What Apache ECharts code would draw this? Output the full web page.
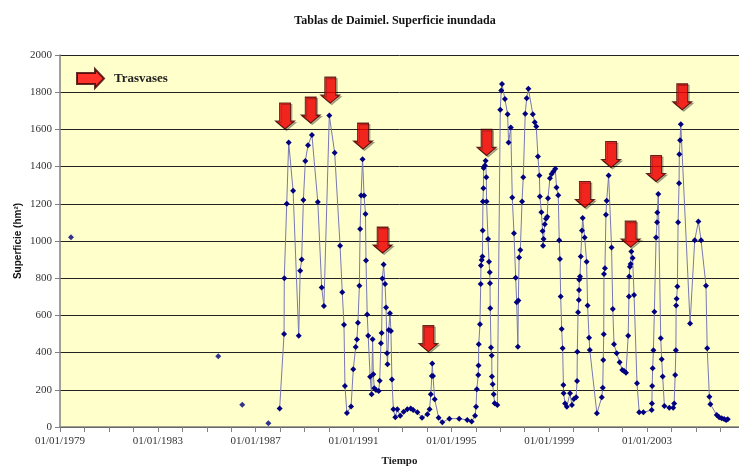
<!DOCTYPE html>
<html><head><meta charset="utf-8">
<script src="https://cdn.jsdelivr.net/npm/echarts@6/dist/echarts.min.js"></script>
<style>html,body{margin:0;padding:0;background:#fff}#c{width:739px;height:466px}</style>
</head><body><div id="c"></div>
<script>
const BASE_YEAR = 1979;
const titleText = 'Tablas de Daimiel. Superficie inundada';
const yAxisName = 'Superficie (hm\u00B2)';
const xAxisName = 'Tiempo';
const legendName = 'Trasvases';

// isolated early measurements (not joined by the line)
const isolatedYears  = [1979.45, 1985.47, 1986.45, 1987.52];
const isolatedValues = [1020, 380, 120, 20];

// continuous record (decimal years)
const years = [
 1987.98,1988.16,1988.17,1988.27,1988.35,1988.53,1988.76,1988.82,1988.88,1988.95,
 1989.03,1989.14,1989.30,1989.54,1989.70,1989.79,1990.01,1990.23,1990.45,1990.54,
 1990.61,1990.65,1990.73,1990.90,1990.99,1991.09,1991.14,1991.18,1991.24,1991.27,
 1991.31,1991.37,1991.43,1991.49,1991.51,1991.56,1991.60,1991.68,1991.74,1991.78,
 1991.81,1991.85,1991.92,1992.03,1992.07,1992.12,1992.15,1992.18,1992.23,1992.29,
 1992.33,1992.37,1992.39,1992.44,1992.49,1992.53,1992.57,1992.63,1992.71,1992.79,
 1992.91,1993.05,1993.20,1993.34,1993.44,1993.61,1993.80,1994.02,1994.11,1994.16,
 1994.20,1994.22,1994.25,1994.32,1994.48,1994.63,1994.92,1995.32,1995.65,1995.83,
 1995.97,
 1996.01,1996.04,1996.10,1996.11,1996.12,1996.17,1996.20,1996.21,1996.24,1996.27,
 1996.28,1996.29,1996.31,1996.32,1996.37,1996.40,1996.43,1996.44,1996.50,1996.54,
 1996.57,1996.58,1996.59,1996.62,1996.65,1996.66,1996.69,1996.73,1996.77,1996.88,
 1997.00,1997.04,1997.07,1997.19,1997.30,1997.34,1997.43,1997.49,1997.56,1997.63,
 1997.67,1997.72,1997.74,1997.77,1997.82,1997.89,1997.94,1998.02,1998.08,1998.15,
 1998.33,1998.41,1998.47,1998.54,1998.60,1998.62,1998.68,1998.73,1998.75,1998.77,
 1998.82,1998.87,1998.92,1998.95,1999.03,1999.10,1999.17,1999.25,1999.30,1999.37,
 1999.41,1999.44,1999.47,1999.51,1999.55,1999.58,1999.59,1999.65,1999.72,1999.85,
 1999.93,2000.01,2000.10,2000.14,2000.15,2000.18,2000.21,2000.22,2000.23,2000.26,
 2000.29,2000.34,2000.37,2000.45,2000.53,2000.57,2000.63,2000.66,2000.95,2001.15,
 2001.19,2001.21,2001.23,2001.24,2001.28,2001.32,2001.35,2001.43,2001.55,2001.60,
 2001.65,2001.76,2001.88,2001.99,2002.06,2002.14,2002.23,2002.26,2002.27,2002.30,
 2002.33,2002.36,2002.41,2002.47,2002.59,2002.68,2002.85,2003.19,2003.20,2003.21,
 2003.23,2003.26,2003.30,2003.37,2003.41,2003.42,2003.46,2003.56,2003.60,2003.64,
 2003.71,2003.91,2004.07,2004.11,2004.15,2004.18,2004.19,2004.21,2004.24,2004.27,
 2004.31,2004.32,2004.35,2004.38,2004.76,2004.95,2005.10,2005.21,2005.41,2005.46,
 2005.55,2005.59,2005.85,2005.95,2006.05,2006.15,2006.23,2006.30
];
const values = [
 100,500,800,1200,1530,1270,490,840,900,1220,
 1430,1515,1570,1210,750,650,1675,1475,975,725,
 550,220,75,110,310,430,470,560,760,1065,
 1245,1440,1245,1145,895,605,490,270,176,472,
 283,208,199,194,249,450,506,798,873,769,
 642,396,337,522,612,516,256,95,52,95,
 61,82,95,100,91,79,50,68,95,176,
 274,341,274,149,50,25,45,45,38,29,
 61,
 109,203,280,330,445,552,769,868,898,916,
 1056,1212,1284,1392,1406,1431,1343,1212,1011,889,
 832,773,639,427,384,271,230,176,128,118,
 1705,1809,1844,1763,1682,1530,1610,1234,1042,803,
 671,432,680,911,952,1212,1343,1684,1768,1818,
 1682,1639,1616,1454,1352,1239,1155,1054,975,1011,
 1090,1119,1131,1230,1338,1360,1374,1388,1287,1246,
 1004,903,701,527,423,226,181,127,109,181,
 118,151,160,247,405,617,683,737,791,809,
 916,1056,1123,1019,889,653,480,414,74,160,
 211,360,499,823,854,1141,1216,1352,965,635,
 445,396,348,307,301,292,490,701,809,862,
 877,943,908,710,235,79,79,91,127,221,
 316,413,620,1019,1101,1153,1253,477,364,271,
 113,104,104,127,280,413,653,689,755,1101,
 1311,1467,1542,1628,556,1004,1105,1004,760,423,
 163,122,65,52,47,43,38,41
];

// "Trasvases" (water transfers) arrow annotations: date and tip level
const transferYears  = [1988.20, 1989.25, 1990.05, 1991.39, 1992.19, 1994.06, 1996.44, 2000.46, 2001.53, 2002.33, 2003.37, 2004.44];
const transferLevels = [1602, 1634, 1741, 1494, 935, 405, 1460, 1180, 1395, 967, 1320, 1705];

// axis ticks: yearly ticks, labelled every 4 years
const yMin = 0, yMax = 2000, yStep = 200;
const xLabelEvery = 4;

const off = y => +(y - BASE_YEAR).toFixed(3);
const lineData = years.map((y, i) => [off(y), values[i]]);
const isoData = isolatedYears.map((y, i) => [off(y), isolatedValues[i]]);
const arrowData = transferYears.map((y, i) => [off(y), transferLevels[i]]);

const downArrow = 'path://M4,0 L15,0 L15,18 L19,18 L9.5,26 L0,18 L4,18 Z';
const rightArrow = 'path://M0,4 L18,4 L18,0 L27,9.5 L18,19 L18,15 L0,15 Z';

const serif = 'Liberation Serif';
const chart = echarts.init(document.getElementById('c'), null, {renderer: 'canvas'});
chart.setOption({
  animation: false,
  backgroundColor: '#ffffff',
  title: {
    text: titleText, left: 390, top: 10, textAlign: 'center',
    textStyle: {fontFamily: serif, fontWeight: 'bold', fontSize: 12, color: '#111'}
  },
  legend: {
    data: [{name: legendName, icon: rightArrow}],
    left: 76, top: 68, padding: 0, itemWidth: 27, itemHeight: 19,
    textStyle: {fontFamily: serif, fontWeight: 'bold', fontSize: 13, color: '#222', padding: [0, 0, 0, 5]},
    selectedMode: false
  },
  grid: {
    left: 60, top: 55, right: 0, bottom: 39,
    outerBoundsMode: 'none', containLabel: false,
    show: true, backgroundColor: '#ffffcc', borderWidth: 0
  },
  xAxis: {
    type: 'value', min: 0, max: 27.76, interval: 1,
    name: xAxisName, nameLocation: 'middle', nameGap: 29, nameMoveOverlap: false,
    nameTextStyle: {fontFamily: serif, fontWeight: 'bold', fontSize: 11, color: '#222'},
    axisLine: {show: true, lineStyle: {color: '#808080', width: 1.5}},
    axisTick: {show: true, length: 5, lineStyle: {color: '#808080'}},
    axisLabel: {
      margin: 9, fontFamily: serif, fontSize: 11, color: '#333', showMaxLabel: false,
      formatter: v => (Math.abs(v % xLabelEvery) < 1e-6) ? '01/01/' + (BASE_YEAR + v) : ''
    },
    splitLine: {show: false}
  },
  yAxis: {
    type: 'value', min: yMin, max: yMax, interval: yStep,
    name: yAxisName, nameLocation: 'middle', nameGap: 37, nameRotate: 90, nameMoveOverlap: false,
    nameTextStyle: {fontFamily: 'Liberation Sans', fontWeight: 'bold', fontSize: 10, color: '#111'},
    axisLine: {show: true, lineStyle: {color: '#808080', width: 1.5}},
    axisTick: {show: true, length: 5, lineStyle: {color: '#808080'}},
    axisLabel: {margin: 8, fontFamily: serif, fontSize: 11, color: '#333', formatter: v => String(v)},
    splitLine: {show: true, lineStyle: {color: '#222', width: 1}}
  },
  series: [
    {
      name: 'Superficie', type: 'line', data: lineData, z: 3,
      symbol: 'diamond', symbolSize: 6, showAllSymbol: true,
      itemStyle: {color: '#000080'},
      lineStyle: {color: '#7878b4', width: 1},
      emphasis: {disabled: true}
    },
    {
      name: 'Aislados', type: 'scatter', data: isoData, z: 3,
      symbol: 'diamond', symbolSize: 6,
      itemStyle: {color: '#000080'}
    },
    {
      name: legendName, type: 'scatter', data: arrowData, z: 5,
      symbol: downArrow, symbolSize: [19, 26], symbolOffset: [0, -13],
      itemStyle: {color: '#ff0000', borderColor: '#3a0000', borderWidth: 1,
        shadowColor: 'rgba(0,0,0,0.35)', shadowOffsetX: 1.5, shadowOffsetY: 1.5}
    }
  ]
});
</script>
</body></html>
